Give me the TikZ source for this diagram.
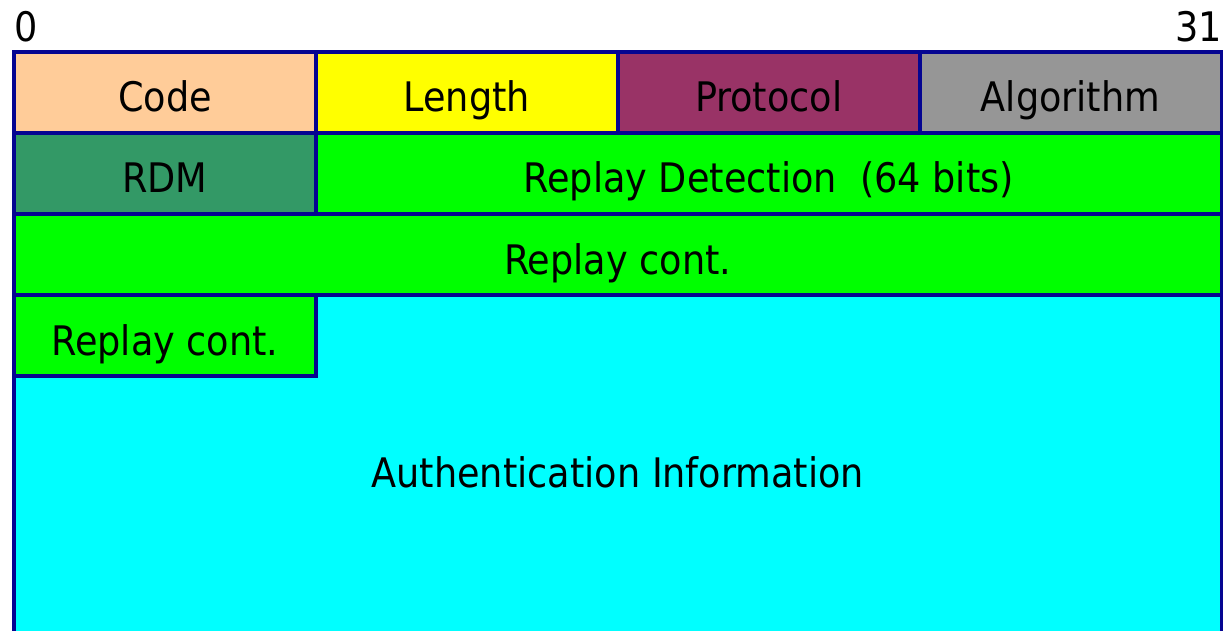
\documentclass[tikz,border=0pt]{standalone}
\usepackage{fontspec}
\setmainfont{DejaVu Sans Condensed}
\definecolor{edgeblue}{RGB}{5,5,145}
\definecolor{codec}{HTML}{FFCC99}
\definecolor{lenc}{HTML}{FFFF00}
\definecolor{protc}{HTML}{993366}
\definecolor{algc}{HTML}{969696}
\definecolor{rdmc}{HTML}{339966}
\definecolor{greenc}{HTML}{00FF00}
\definecolor{cyanc}{HTML}{00FFFF}
\begin{document}
\begin{tikzpicture}[x=1pt,y=-1pt,
  field/.style={draw=edgeblue, line width=3.8pt, anchor=north west, inner sep=0pt, outer sep=0pt,
    minimum height=81pt, text height=39pt, text depth=0pt, font=\fontsize{40.7}{48}\selectfont},
  w1/.style={minimum width=301.9pt},
  w3/.style={minimum width=905.6pt},
  w4/.style={minimum width=1207.5pt},
  bitlbl/.style={inner sep=0pt, font=\fontsize{40.7}{48}\selectfont}]
\clip (0,0) rectangle (1223,631);
\node[bitlbl, anchor=base west] (b0) at (14,42) {0};
\node[bitlbl, anchor=base east] (b31) at (1222,42) {31};
% row 1
\node[field, w1, fill=codec] (code) at (14,52) {Code};
\node[field, w1, fill=lenc] (len) at (315.9,52) {Length};
\node[field, w1, fill=protc] (prot) at (617.8,52) {Protocol};
\node[field, w1, fill=algc] (alg) at (919.6,52) {Algorithm};
% row 2
\node[field, w1, fill=rdmc] (rdm) at (14,133) {RDM};
\node[field, w3, fill=greenc] (replay) at (315.9,133) {Replay Detection\ \ (64 bits)};
% row 3
\node[field, w4, fill=greenc] (cont1) at (14,214) {Replay cont.};
% auth
\node[field, w4, fill=cyanc, minimum height=345pt] (auth) at (14,295) {Authentication Information};
\node[field, w1, fill=greenc] (cont2) at (14,295) {Replay cont.};
\end{tikzpicture}
\end{document}
